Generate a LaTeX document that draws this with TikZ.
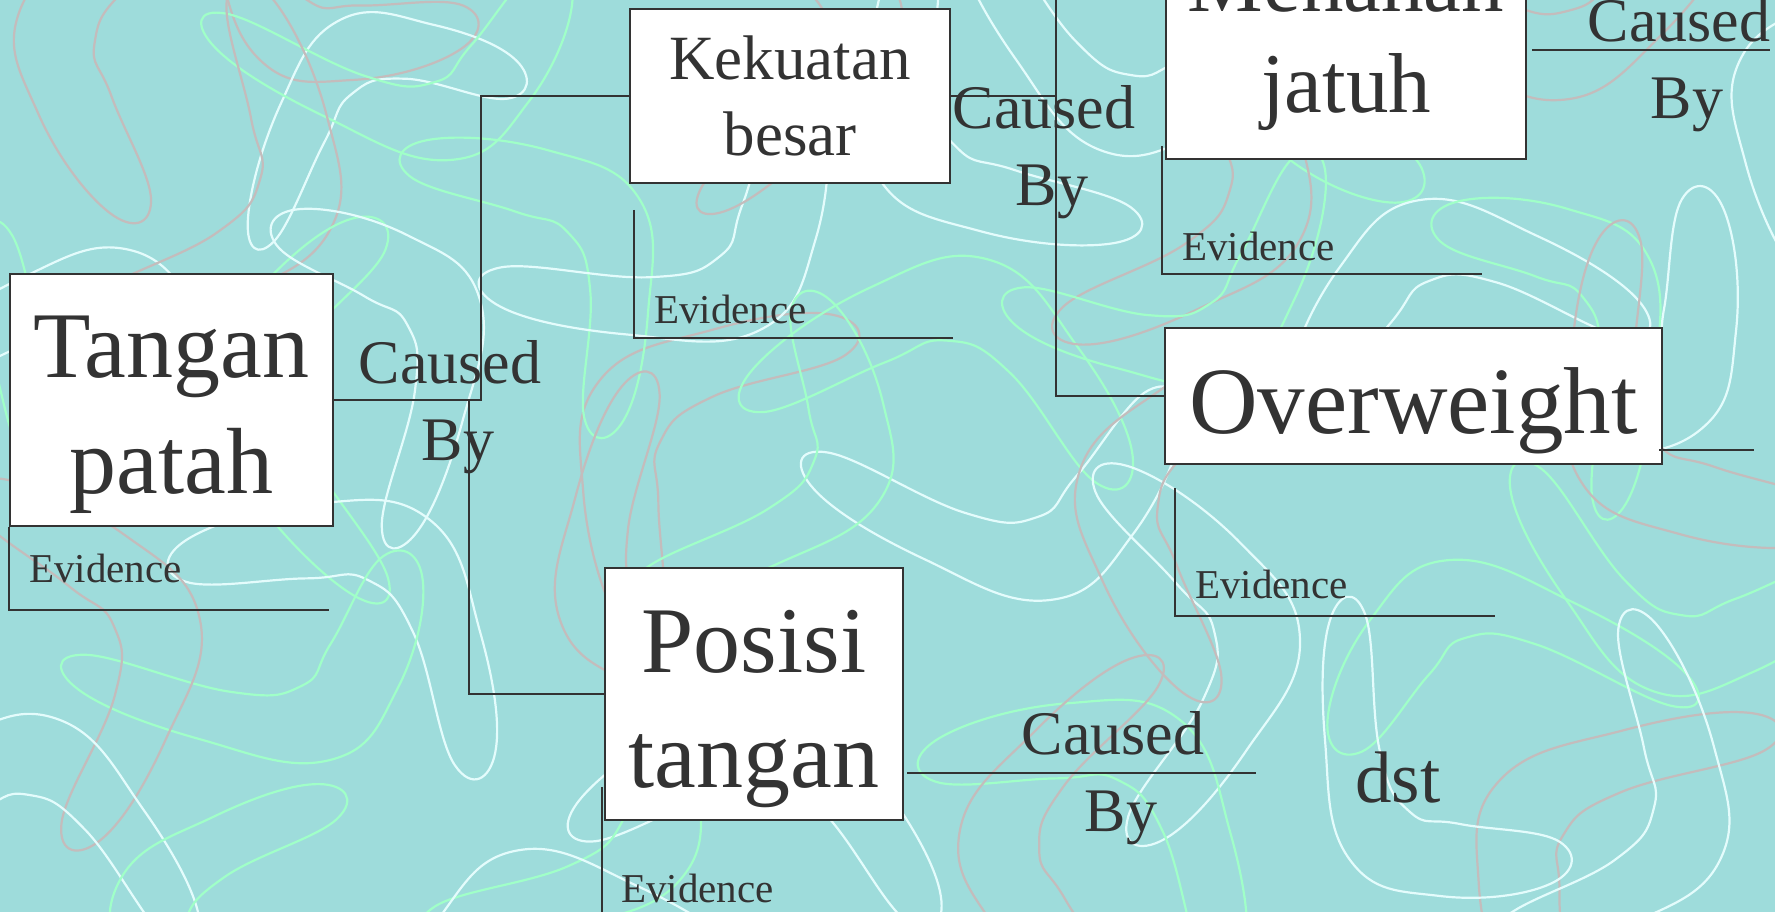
\documentclass[tikz,border=0pt]{standalone}
\usepackage{fontspec}
\setmainfont{Liberation Serif}
\definecolor{bgc}{RGB}{158,220,219}
\definecolor{sqp}{RGB}{196,188,188}
\definecolor{sqw}{RGB}{228,252,252}
\definecolor{sqg}{RGB}{160,255,200}
\definecolor{ink}{RGB}{51,51,51}
\newcommand\boom[6]{\draw[#6, shift={(#1,#2)}, rotate=#3, xscale=#4, yscale=#5] plot[smooth cycle, tension=0.75] coordinates {(0,0) (100,-25) (200,-20) (205,15) (90,30) (40,60) (30,110) (15,210) (-20,200) (-30,90)};}
\begin{document}
\begin{tikzpicture}[x=1pt,y=-1pt,
  sq/.style={line width=2.2pt},
  P/.style={sq,draw=sqp}, W/.style={sq,draw=sqw}, G/.style={sq,draw=sqg},
  box/.style={draw=ink, line width=2pt, fill=white, text=ink, inner sep=0pt, align=center},
  conn/.style={draw=ink, line width=2pt},
  cb/.style={text=ink, inner sep=0pt, align=center, anchor=north, font=\fontsize{62}{77}\selectfont},
  ev/.style={text=ink, inner sep=0pt, anchor=base west, font=\fontsize{41}{49}\selectfont}]
\useasboundingbox (0,0) rectangle (1775,912);
\fill[bgc] (0,0) rectangle (1775,912);
\begin{scope}
\clip (0,0) rectangle (1775,912);
% background squiggles
\boom{20}{10}{30}{1.2}{1.1}{P}
\boom{130}{250}{-60}{1.0}{1.2}{W}
\boom{260}{60}{100}{1.2}{1.0}{P}
\boom{340}{20}{-20}{0.9}{1.1}{W}
\boom{450}{160}{150}{1.3}{1.0}{G}
\boom{330}{230}{200}{1.2}{1.2}{P}
\boom{200}{380}{40}{1.1}{1.3}{G}
\boom{480}{300}{250}{1.2}{1.0}{W}
\boom{600}{380}{10}{1.2}{1.2}{P}
\boom{640}{200}{-100}{1.1}{1.1}{G}
\boom{760}{330}{170}{1.3}{1.1}{W}
\boom{900}{40}{220}{1.2}{1.0}{P}
\boom{990}{260}{300}{1.2}{1.3}{G}
\boom{1100}{150}{120}{1.2}{1.1}{W}
\boom{1230}{80}{60}{1.3}{1.0}{G}
\boom{1300}{240}{200}{1.2}{1.2}{P}
\boom{1420}{200}{-30}{1.2}{1.1}{W}
\boom{1560}{100}{140}{1.2}{1.3}{P}
\boom{1650}{260}{260}{1.2}{1.0}{G}
\boom{1740}{60}{20}{1.0}{1.1}{W}
\boom{1700}{430}{180}{1.2}{1.1}{W}
\boom{1580}{480}{80}{1.2}{1.2}{P}
\boom{1450}{560}{330}{1.3}{1.0}{G}
\boom{1300}{640}{230}{1.2}{1.2}{W}
\boom{1650}{690}{120}{1.2}{1.1}{G}
\boom{1500}{780}{10}{1.3}{1.1}{P}
\boom{1720}{860}{200}{1.1}{1.2}{W}
\boom{1350}{860}{90}{1.2}{1.0}{W}
\boom{1180}{720}{280}{1.2}{1.2}{G}
\boom{1050}{600}{150}{1.3}{1.1}{W}
\boom{960}{830}{40}{1.2}{1.1}{P}
\boom{1080}{470}{30}{1.2}{1.2}{P}
\boom{880}{500}{200}{1.2}{1.0}{G}
\boom{800}{700}{300}{1.2}{1.2}{W}
\boom{680}{880}{190}{1.2}{1.1}{G}
\boom{560}{620}{70}{1.2}{1.1}{P}
\boom{430}{520}{280}{1.2}{1.2}{W}
\boom{330}{760}{160}{1.3}{1.0}{G}
\boom{200}{620}{240}{1.2}{1.2}{P}
\boom{60}{720}{300}{1.2}{1.1}{W}
\boom{120}{880}{20}{1.1}{1.1}{G}
\boom{40}{480}{100}{1.2}{1.0}{G}
\boom{520}{850}{330}{1.2}{1.1}{W}
\boom{880}{180}{80}{1.1}{1.2}{W}
\boom{1230}{380}{160}{1.1}{1.1}{G}

% boxes
\node[box, minimum width=323pt, font=\fontsize{94}{116}\selectfont] (tangan) at (171.5,400)
  {\rule{0pt}{103pt}Tangan\\patah\rule[-33pt]{0pt}{33pt}};
\node[box, minimum width=320pt, font=\fontsize{63}{76}\selectfont] (kekuatan) at (790,96)
  {\rule{0pt}{71pt}Kekuatan\\besar\rule[-27pt]{0pt}{27pt}};
\node[box, minimum width=298pt, font=\fontsize{94}{115}\selectfont] (posisi) at (754,694)
  {\rule{0pt}{104pt}Posisi\\tangan\rule[-33pt]{0pt}{33pt}};
\node[box, minimum width=497pt, font=\fontsize{95}{115}\selectfont] (overweight) at (1413.5,396)
  {\rule{0pt}{105pt}Overweight\rule[-31pt]{0pt}{31pt}};
\node[box, minimum width=360pt, font=\fontsize{85}{101}\selectfont] (menahan) at (1346,39.5)
  {\rule{0pt}{92pt}Menahan\\jatuh\rule[-46pt]{0pt}{46pt}};

% caused-by connectors
\draw[conn] (tangan.east) -- (481,400) |- (kekuatan.west);
\coordinate (ta) at (469,400);
\draw[conn] (ta) |- (posisi.west);
\draw[conn] (kekuatan.east) -- (1056,96);
\coordinate (kt) at (1056,-10);
\draw[conn] (kt) |- (overweight.west);
\coordinate (me) at (1770,50);
\draw[conn] ([xshift=5pt]menahan.east |- me) -- (me);
\coordinate (owe) at (1754,450);
\draw[conn] ([xshift=-4pt]overweight.east |- owe) -- (owe);
\coordinate (pe) at (1256,773);
\draw[conn] ([xshift=3pt]posisi.east |- pe) -- (pe);

% caused-by labels
\node[cb] (cbA) at (450,333) {\rule{0pt}{50pt}Caused\\\hspace*{16pt}By};
\node[cb] (cbB) at (1044,78) {\rule{0pt}{50pt}Caused\\\hspace*{16pt}By};
\node[cb] (cbC) at (1679,-9) {\rule{0pt}{50pt}Caused\\\hspace*{16pt}By};
\node[cb] (cbD) at (1113,704) {\rule{0pt}{50pt}Caused\\\hspace*{16pt}By};

% evidence brackets
\coordinate (te) at (329,610);
\draw[conn] (tangan.south west) |- (te);
\node[ev] (evA) at (29,582) {Evidence};
\coordinate (ke1) at (634,210);
\coordinate (ke2) at (953,338);
\draw[conn] (ke1) |- (ke2);
\node[ev] (evB) at (654,323) {Evidence};
\coordinate (mj1) at (1162,146);
\coordinate (mj2) at (1482,274);
\draw[conn] (mj1) |- (mj2);
\node[ev] (evC) at (1182,260) {Evidence};
\coordinate (ow1) at (1175,488);
\coordinate (ow2) at (1495,616);
\draw[conn] (ow1) |- (ow2);
\node[ev] (evD) at (1195,598) {Evidence};
\coordinate (pt1) at (602,787);
\coordinate (pt2) at (602,930);
\draw[conn] (pt1) -- (pt2);
\node[ev] (evE) at (621,902) {Evidence};

\node[text=ink, inner sep=0pt, anchor=base, font=\fontsize{73}{88}\selectfont] (dst) at (1398,802) {dst};
\end{scope}
\end{tikzpicture}
\end{document}
